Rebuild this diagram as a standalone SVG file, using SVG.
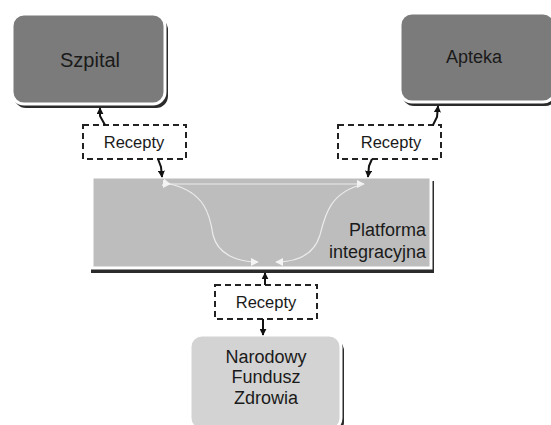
<svg xmlns="http://www.w3.org/2000/svg" width="551" height="425" viewBox="0 0 551 425">
<defs>
<marker id="ah" viewBox="0 0 10 10" refX="9" refY="5" markerWidth="7" markerHeight="7" orient="auto" markerUnits="userSpaceOnUse"><path d="M0,0 L10,5 L0,10 z" fill="#111"/></marker>
<marker id="wh" viewBox="0 0 10 10" refX="9" refY="5" markerWidth="8" markerHeight="8" orient="auto" markerUnits="userSpaceOnUse"><path d="M0,0 L10,5 L0,10 z" fill="#f4f4f4"/></marker>
<style>
.shadow{fill:#2b2b2b}
.box{stroke:#fff;stroke-width:3}
.dark{fill:#7b7b7b}
.t{font-family:"Liberation Sans",Arial,sans-serif;fill:#1a1a1a;text-anchor:middle}
.big{font-size:18px}
.small{font-size:16.5px}
.dash{fill:#fff;stroke:#222;stroke-width:2;stroke-dasharray:6 4}
.conn{fill:none;stroke:#111;stroke-width:2}
.inner{fill:none;stroke:#ececec;stroke-width:1.2}
</style>
</defs>
<rect width="551" height="425" fill="#fff"/>
<g id="szpital">
<rect class="shadow" x="14" y="18" width="154" height="90" rx="12"/>
<rect class="box dark" x="12" y="14" width="153" height="90" rx="12"/>
<text class="t big" x="90" y="67" style="font-size:20px">Szpital</text>
</g>
<g id="apteka">
<rect class="shadow" x="402" y="17" width="155" height="89" rx="12"/>
<rect class="box dark" x="400" y="13" width="155" height="89" rx="12"/>
<text class="t big" x="474" y="63">Apteka</text>
</g>
<g id="platforma">
<rect class="shadow" x="91" y="181" width="343" height="92"/>
<rect class="box" x="92" y="177" width="339" height="91" fill="#bdbdbd"/>
<text class="t big" x="426" y="236" style="text-anchor:end">Platforma</text>
<text class="t big" x="426" y="258" style="text-anchor:end">integracyjna</text>
<g id="inner-flows">
<path class="inner" d="M170,184 L364,184" marker-start="url(#wh)" marker-end="url(#wh)"/>
<path class="inner" d="M170,184 C205,192 210,215 213,235 C218,255 238,262 258,262" marker-start="url(#wh)" marker-end="url(#wh)"/>
<path class="inner" d="M364,184 C330,192 325,215 320,235 C314,255 296,262 276,262" marker-end="url(#wh)"/>
</g>
</g>
<g id="nfz">
<rect class="shadow" x="193" y="339" width="151" height="95" rx="12"/>
<rect class="box" x="190" y="335" width="151" height="95" rx="12" fill="#d3d3d3"/>
<text class="t big" x="266" y="363">Narodowy</text>
<text class="t big" x="266" y="383">Fundusz</text>
<text class="t big" x="266" y="404">Zdrowia</text>
</g>
<g id="recepty-szpital">
<rect class="dash" x="83" y="125" width="103" height="34"/>
<text class="t small" x="134" y="148">Recepty</text>
</g>
<g id="recepty-apteka">
<rect class="dash" x="338" y="125" width="103" height="34"/>
<text class="t small" x="391" y="148">Recepty</text>
</g>
<g id="recepty-nfz">
<rect class="dash" x="215" y="285" width="102" height="34"/>
<text class="t small" x="266" y="308">Recepty</text>
</g>
<g id="connectors">
<path class="conn" d="M105,125 L100,116 L100,108" marker-end="url(#ah)"/>
<path class="conn" d="M433,125 L437,117 L438,106" marker-end="url(#ah)"/>
<path class="conn" d="M158,159 L161,167 L162,177" marker-end="url(#ah)"/>
<path class="conn" d="M372,159 L369,166 L368,177" marker-end="url(#ah)"/>
<path class="conn" d="M265,285 L265,273" marker-end="url(#ah)"/>
<path class="conn" d="M263,319 L263,335" marker-end="url(#ah)"/>
</g>
</svg>
